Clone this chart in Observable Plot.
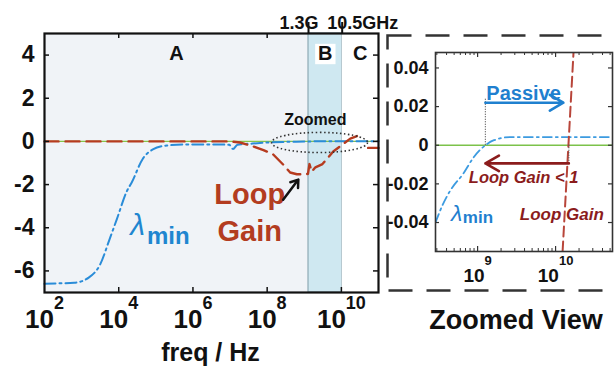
<!DOCTYPE html>
<html><head><meta charset="utf-8">
<script src="https://cdn.jsdelivr.net/npm/d3@7"></script>
<script src="https://cdn.jsdelivr.net/npm/@observablehq/plot@0.6"></script>
<style>
body{margin:0;background:#fff;}
#wrap{position:relative;width:615px;height:369px;overflow:hidden;background:#fff;}
#wrap svg{position:absolute;top:0;}
</style></head><body><div id="wrap"></div>
<script>
// ---------- main panel data (log10 of frequency in Hz, value) ----------
const lambdaLogF = [2, 2.3, 2.8, 3.2, 3.5, 3.76, 3.95, 4.22, 4.35, 4.65, 4.92, 5.3, 5.85, 6.65, 6.98, 7.08, 7.2, 7.6, 8.0, 8.5, 9.0, 9.12, 9.5, 10.0, 11];
const lambdaVal  = [-6.6, -6.58, -6.55, -6.3, -5.7, -4.5, -3.6, -2.3, -1.9, -0.8, -0.37, -0.19, -0.14, -0.14, -0.16, -0.35, -0.15, -0.1, -0.05, -0.02, -0.005, 0, 0.004, 0.005, 0.005];
const loopLogF = [2, 7.0, 7.27, 7.62, 7.9, 8.16, 8.43, 8.62, 8.8, 9.03, 9.1, 9.14, 9.2, 9.3, 9.49, 9.78, 10.05, 10.24, 10.5, 10.6, 10.72, 11];
const loopVal  = [0, 0, -0.05, -0.23, -0.4, -0.6, -1.07, -1.44, -1.52, -1.53, -1.5, -1.05, -1.4, -1.2, -1.05, -0.47, -0.12, 0.13, 0.3, NaN, -0.3, -0.3];
const zeroLine = [0];

const regionNames = ["A", "B", "C"];
const regionFrom  = [1e2, 1.3e9, 1.05e10];
const regionTo    = [1.3e9, 1.05e10, 1e11];
const bandEdgeFreq   = [1.3e9, 1.05e10];
const bandEdgeLabels = ["1.3G", "10.5GHz"];

const yTicksMain   = [-6, -4, -2, 0, 2, 4];
const xTickExpMain = [2, 4, 6, 8, 10];
const xInnerTicksMain = [1e4, 1e6, 1e8, 1e10];
const xTopTicksMain   = [1e4, 1e6, 1e8];

// annotations (log10 f, value)
const zoomedNoteLogF = 9.30, zoomedNoteVal = 1.0;
const ellipseLogF = 9.41, ellipseVal = -0.05;
const loopLabelText = ["Loop", "Gain"];
const loopLabelLogF = 7.53;
const loopLabelVal  = [-2.45, -4.17];
const arrowMain = {from: [8.43, -2.7], to: [8.84, -1.77]};
const lambdaLabelMain = {sym: [4.51, -3.9], sub: [4.76, -4.4]};

// ---------- zoomed panel data ----------
const zLambdaLogF = [8.46, 8.55, 8.65, 8.82, 8.95, 9.10, 9.21, 9.42, 10.73];
const zLambdaVal  = [-0.04, -0.031, -0.0234, -0.0145, -0.0062, 0, 0.0026, 0.0042, 0.0042];
const zLoopLogF = [10.09, 10.23];
const zLoopVal  = [-0.055, 0.048];
const yTicksZoom   = [-0.04, -0.02, 0, 0.02, 0.04];
const xTickExpZoom = [9, 10];
const xMinorZoom = [3e8,4e8,5e8,6e8,7e8,8e8,9e8,2e9,3e9,4e9,5e9,6e9,7e9,8e9,9e9,2e10,3e10,4e10,5e10];
const passiveArrow = {from: 9.10, to: 10.10, val: 0.022, top: 0.024};
const lgArrow      = {from: 10.17, to: 9.10, val: -0.0094};
const zNotes = {passive: [9.59, 0.0265], lgLess: [9.59, -0.0166], lg: [10.08, -0.0358], lam: [8.73, -0.0355], lamSub: [8.81, -0.0374]};

// ---------- helpers ----------
const FONT = '"Liberation Sans", Arial, Helvetica, sans-serif';
const pow = e => 10 ** e;
function supLabels(exps, {baseSize, supSize, dyBase, dySup}) {
  const dw = 0.556, baseW = 2 * dw * baseSize;
  return d3.groups(exps, e => String(e).length).flatMap(([n, es]) => {
    const supW = n * dw * supSize;
    return [
      Plot.text(es, {x: pow, text: () => "10", frameAnchor: "bottom", dy: dyBase, dx: -supW / 2, fontSize: baseSize, textAnchor: "middle", fill: "#111"}),
      Plot.text(es, {x: pow, text: e => String(e), frameAnchor: "bottom", dy: dySup, dx: baseW / 2 - supW / 2, fontSize: supSize, textAnchor: "start", fill: "#111"})
    ];
  });
}
const ellipseSymbol = {
  draw(ctx, size) {
    const rx = Math.sqrt(size / Math.PI), ry = rx * 0.21, k = 0.5523;
    ctx.moveTo(rx, 0);
    ctx.bezierCurveTo(rx, ry * k, rx * k, ry, 0, ry);
    ctx.bezierCurveTo(-rx * k, ry, -rx, ry * k, -rx, 0);
    ctx.bezierCurveTo(-rx, -ry * k, -rx * k, -ry, 0, -ry);
    ctx.bezierCurveTo(rx * k, -ry, rx, -ry * k, rx, 0);
    ctx.closePath();
  }
};
const regionFill = {A: "#f0f3f7", B: "#cfe8f1", C: "#ffffff"};
const lambdaData = lambdaLogF.map((e, i) => ({f: pow(e), v: lambdaVal[i]}));
const loopData = loopLogF.map((e, i) => ({f: pow(e), v: loopVal[i]}));
const zLambdaData = zLambdaLogF.map((e, i) => ({f: pow(e), v: zLambdaVal[i]}));
const zLoopData = zLoopLogF.map((e, i) => ({f: pow(e), v: zLoopVal[i]}));
const style = {fontFamily: FONT, fontWeight: "bold", background: "transparent", overflow: "visible"};

// ---------- main panel ----------
const mW = 385, mH = 369, mT = 33, mB = 77, mL = 44, mR = 7;
const pw = mW - mL - mR, ph = mH - mT - mB;
const main = Plot.plot({
  width: mW, height: mH, marginLeft: mL, marginRight: mR, marginTop: mT, marginBottom: mB,
  x: {type: "log", domain: [1e2, 1e11], axis: null},
  y: {domain: [-7, 5], axis: null},
  style,
  marks: [
    Plot.rect(regionNames, {x1: (d, i) => regionFrom[i], x2: (d, i) => regionTo[i], fill: d => regionFill[d],
      stroke: d => d === "B" ? "#8eaab4" : "none", strokeWidth: 1.2}),
    Plot.ruleY(zeroLine, {stroke: "#86c64a", strokeWidth: 1.4}),
    Plot.line(lambdaData, {x: "f", y: "v", stroke: "#2a8cd8", strokeWidth: 2, strokeDasharray: "11,4,2,4", curve: "monotone-x"}),
    Plot.line(loopData, {x: "f", y: "v", stroke: "#b63b1f", strokeWidth: 2.4, strokeDasharray: "14,7", curve: "linear"}),
    // inward ticks
    Plot.ruleY(yTicksMain, {insetRight: pw - 5, stroke: "#111", strokeWidth: 1.5}),
    Plot.ruleY(yTicksMain, {insetLeft: pw - 5, stroke: "#111", strokeWidth: 1.5}),
    Plot.ruleX(xInnerTicksMain, {insetTop: ph - 5, stroke: "#111", strokeWidth: 1.5}),
    Plot.ruleX(xTopTicksMain, {insetBottom: ph - 5, stroke: "#111", strokeWidth: 1.5}),
    Plot.ruleX(bandEdgeFreq, {insetTop: -11, insetBottom: ph, stroke: "#111", strokeWidth: 2}),
    Plot.frame({stroke: "#111", strokeWidth: 2.2}),
    // region labels
    Plot.dot(["B"], {x: (d) => Math.sqrt(regionFrom[1] * regionTo[1]), y: 4.05, symbol: "square", r: 11.5, fill: "#ffffff"}),
    Plot.text(regionNames, {x: (d, i) => Math.sqrt(regionFrom[i] * regionTo[i]), y: 4.05, text: d => d, fontSize: 20, fill: "#111"}),
    Plot.text([bandEdgeLabels[0]], {x: () => bandEdgeFreq[0], frameAnchor: "top", dy: -17, dx: 10, textAnchor: "end", text: d => d, fontSize: 18, fill: "#111"}),
    Plot.text([bandEdgeLabels[1]], {x: () => bandEdgeFreq[1], frameAnchor: "top", dy: -17, dx: -15, textAnchor: "start", text: d => d, fontSize: 18, fill: "#111"}),
    // annotations
    Plot.dot([0], {x: () => pow(ellipseLogF), y: () => ellipseVal, r: 48, symbol: ellipseSymbol, fill: "none", stroke: "#333", strokeWidth: 1.6, strokeDasharray: "1.5,2.5"}),
    Plot.text(["Zoomed"], {x: () => pow(zoomedNoteLogF), y: () => zoomedNoteVal, text: d => d, fontSize: 16, fill: "#111"}),
    Plot.text(loopLabelText, {x: () => pow(loopLabelLogF), y: (d, i) => loopLabelVal[i], text: d => d, fontSize: 29, fill: "#b33c20"}),
    Plot.arrow([0], {x1: () => pow(arrowMain.from[0]), y1: () => arrowMain.from[1], x2: () => pow(arrowMain.to[0]), y2: () => arrowMain.to[1], stroke: "#111", strokeWidth: 2.5, headLength: 10, headAngle: 70}),
    Plot.text(["λ"], {x: () => pow(lambdaLabelMain.sym[0]), y: () => lambdaLabelMain.sym[1], text: d => d, fontSize: 30, fontWeight: "normal", fontStyle: "italic", fill: "#1f86d0"}),
    Plot.text(["min"], {x: () => pow(lambdaLabelMain.sub[0]), y: () => lambdaLabelMain.sub[1], text: d => d, fontSize: 24, textAnchor: "start", fill: "#1f86d0"}),
    // axes text
    Plot.axisY({ticks: yTicksMain, tickSize: 0, tickPadding: 10, fontSize: 23, tickFormat: d => String(d), label: null, fill: "#111"}),
    ...supLabels(xTickExpMain, {baseSize: 26, supSize: 18, dyBase: 35, dySup: 16}),
    Plot.text(["freq / Hz"], {frameAnchor: "bottom", dy: 68, dx: 210 - (mL + pw / 2), text: d => d, fontSize: 25, fill: "#111"})
  ]
});
main.style.left = "0px";

// ---------- zoomed panel ----------
const zW = 235, zH = 369, zT = 52, zB = 118, zL = 55, zR = 3;
const zpw = zW - zL - zR, zph = zH - zT - zB;
const red2 = "#8b1c1c", blue2 = "#1f80cf";
const zoom = Plot.plot({
  width: zW, height: zH, marginLeft: zL, marginRight: zR, marginTop: zT, marginBottom: zB,
  x: {type: "log", domain: [10 ** 8.46, 10 ** 10.73], axis: null},
  y: {domain: [-0.055, 0.048], axis: null},
  style,
  marks: [
    Plot.frame({insetTop: -17, insetLeft: -48, insetBottom: -39, insetRight: -40, stroke: "#333", strokeWidth: 2.5, strokeDasharray: "24,14"}),
    Plot.ruleY(zeroLine, {stroke: "#7cc24a", strokeWidth: 1.5}),
    Plot.line(zLambdaData, {x: "f", y: "v", stroke: "#3c9be0", strokeWidth: 1.8, strokeDasharray: "9,4,2,4", curve: "monotone-x", clip: true}),
    Plot.line(zLoopData, {x: "f", y: "v", stroke: "#b8453a", strokeWidth: 2, strokeDasharray: "10,5", clip: true}),
    Plot.ruleX([passiveArrow.from], {x: pow, y1: 0, y2: passiveArrow.top, stroke: "#555", strokeWidth: 1.2, strokeDasharray: "1,1.5"}),
    Plot.ruleX([lgArrow.from], {x: pow, y1: 0, y2: lgArrow.val, stroke: "#555", strokeWidth: 1.2, strokeDasharray: "1,1.5"}),
    Plot.arrow([0], {x1: () => pow(passiveArrow.from), x2: () => pow(passiveArrow.to), y1: () => passiveArrow.val, y2: () => passiveArrow.val, stroke: blue2, strokeWidth: 2.6, headLength: 9, headAngle: 60}),
    Plot.arrow([0], {x1: () => pow(lgArrow.from), x2: () => pow(lgArrow.to), y1: () => lgArrow.val, y2: () => lgArrow.val, stroke: red2, strokeWidth: 2.6, headLength: 9, headAngle: 60}),
    Plot.text(["Passive"], {x: () => pow(zNotes.passive[0]), y: () => zNotes.passive[1], text: d => d, fontSize: 20, fill: blue2}),
    Plot.text(["Loop Gain < 1"], {x: () => pow(zNotes.lgLess[0]), y: () => zNotes.lgLess[1], text: d => d, fontSize: 16.5, fontStyle: "italic", fill: red2}),
    Plot.text(["Loop Gain"], {x: () => pow(zNotes.lg[0]), y: () => zNotes.lg[1], text: d => d, fontSize: 17, fontStyle: "italic", fill: red2}),
    Plot.text(["λ"], {x: () => pow(zNotes.lam[0]), y: () => zNotes.lam[1], text: d => d, fontSize: 23, fontWeight: "normal", fontStyle: "italic", fill: blue2}),
    Plot.text(["min"], {x: () => pow(zNotes.lamSub[0]), y: () => zNotes.lamSub[1], text: d => d, fontSize: 17, textAnchor: "start", fill: blue2}),
    // inward ticks
    Plot.ruleY(yTicksZoom, {insetRight: zpw - 4, stroke: "#333", strokeWidth: 1.2}),
    Plot.ruleY(yTicksZoom, {insetLeft: zpw - 4, stroke: "#333", strokeWidth: 1.2}),
    Plot.ruleX(xTickExpZoom, {x: pow, insetTop: zph - 5, stroke: "#333", strokeWidth: 1.2}),
    Plot.ruleX(xTickExpZoom, {x: pow, insetBottom: zph - 5, stroke: "#333", strokeWidth: 1.2}),
    Plot.ruleX(xMinorZoom, {insetTop: zph - 3, stroke: "#333", strokeWidth: 1}),
    Plot.ruleX(xMinorZoom, {insetBottom: zph - 3, stroke: "#333", strokeWidth: 1}),
    Plot.frame({stroke: "#333", strokeWidth: 1.6}),
    Plot.axisY({ticks: yTicksZoom, tickSize: 0, tickPadding: 7, fontSize: 18, tickFormat: d => d === 0 ? "0" : d.toFixed(2), label: null, fill: "#111"}),
    ...supLabels(xTickExpZoom, {baseSize: 19, supSize: 13, dyBase: 30, dySup: 13}),
    Plot.text(["Zoomed View"], {frameAnchor: "bottom", dy: 77, dx: -8, text: d => d, fontSize: 27, fill: "#111"})
  ]
});
zoom.style.left = "380px";

document.getElementById("wrap").append(main, zoom);
</script>
</body></html>
